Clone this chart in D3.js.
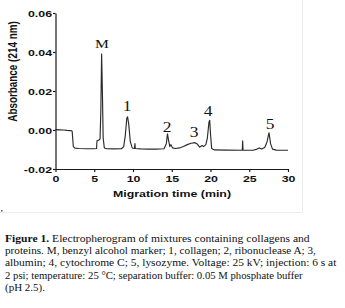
<!DOCTYPE html>
<html>
<head>
<meta charset="utf-8">
<script src="https://cdn.jsdelivr.net/npm/d3@7"></script>
<style>
  body { margin: 0; background: #fff; }
  svg { display: block; }
</style>
</head>
<body>
<svg id="canvas"></svg>
<script>
// migration time (min) and absorbance (AU)
let times = [0, 0.5, 1.0, 1.5, 2.0, 2.15, 2.3, 2.5, 3.0, 4.0, 5.0, 5.3, 5.35, 5.6, 5.75, 5.85, 5.95, 6.05, 6.15, 6.3, 6.6,
    7.5, 8.5, 8.8, 9.0, 9.2, 9.3, 9.45, 9.65, 9.9, 10.2, 10.25, 10.3, 11, 12, 13, 14.0, 14.3, 14.45, 14.6, 14.75, 14.9,
    15.1, 15.5, 16.0, 16.5, 17.0, 17.5, 18.0, 18.3, 18.6, 18.9, 19.1, 19.4, 19.6, 19.8, 19.9, 20.0, 20.15, 20.5, 22,
    24.1, 24.15, 24.2, 25.5, 26.0, 26.3, 26.6, 27.0, 27.3, 27.55, 27.75, 28.0, 28.5, 30]
let absorbance = [0.0002, 0.0001, 0.0000, -0.0002, -0.0003, -0.0006, -0.0085, -0.0093, -0.0095, -0.0096, -0.0096, -0.0095,
    -0.0055, -0.0052, -0.0045, 0.010, 0.039, 0.020, -0.004, -0.0092, -0.0096,
    -0.0097, -0.0096, -0.0085, -0.003, 0.006, 0.0068, 0.003, -0.006, -0.0092, -0.0095, -0.007, -0.0095, -0.0097, -0.0098,
    -0.0098, -0.0096, -0.007, -0.002, -0.0055, -0.0085, -0.0075,
    -0.0092, -0.0095, -0.0092, -0.0085, -0.0075, -0.0068, -0.0065, -0.0072, -0.0088, -0.008, -0.0085, -0.0075, -0.004,
    0.004, 0.005, -0.002, -0.0095, -0.0102, -0.0103,
    -0.0104, -0.0056, -0.0104, -0.0104, -0.0098, -0.0092, -0.0098, -0.009, -0.006, -0.0014, -0.007, -0.0098, -0.0103, -0.0104]

// peak labels, placed at (time, absorbance)
let peakNames = ['M', '1', '2', '3', '4', '5']
let peakTimes = [6.0, 9.23, 14.4, 17.9, 19.7, 27.7]
let peakLabelValues = [0.0418, 0.0097, -0.0008, -0.0036, 0.0072, 0.0005]

let xTicks = [0, 5, 10, 15, 20, 25, 30]
let yTicks = [-0.02, 0.00, 0.02, 0.04, 0.06]
let yTickLabels = ['-0.02', '0.00', '0.02', '0.04', '0.06']

let captionLines = [
    ['Figure 1.', ' Electropherogram of mixtures containing collagens and'],
    ['', 'proteins. M, benzyl alcohol marker; 1, collagen; 2, ribonuclease A; 3,'],
    ['', 'albumin; 4, cytochrome C; 5, lysozyme. Voltage: 25 kV; injection: 6 s at'],
    ['', '2 psi; temperature: 25 \u00b0C; separation buffer: 0.05 M phosphate buffer'],
    ['', '(pH 2.5).']
]
let captionWidths = [305, 311, 332, 298, 40]

let width = 345
let height = 308
let stretch = 1.25

let canvas = d3.select('#canvas')
canvas.attr('width', width).attr('height', height)

let xScale = d3.scaleLinear().domain([0, 30]).range([55.5, 288])
let yScale = d3.scaleLinear().domain([-0.02, 0.06]).range([169, 13])

// faint frame of the figure panel
canvas.append('path')
    .attr('d', 'M302.5,0V212.5H0')
    .attr('fill', 'none')
    .attr('stroke', '#ececec')
    .attr('stroke-width', 1)
canvas.append('rect')
    .attr('x', 1).attr('y', 210).attr('width', 1.5).attr('height', 1.5)
    .attr('fill', '#555')

let drawAxes = () => {
    let xAxis = d3.axisBottom(xScale)
        .tickValues(xTicks)
        .tickSize(3)
        .tickSizeOuter(0)
        .tickPadding(3)
        .tickFormat(d3.format('d'))
    let yAxis = d3.axisLeft(yScale)
        .tickValues(yTicks)
        .tickSize(2.5)
        .tickSizeOuter(0)
        .tickFormat((d, i) => yTickLabels[i])

    let gx = canvas.append('g')
        .attr('id', 'x-axis')
        .attr('transform', 'translate(0,169)')
        .call(xAxis)
    let gy = canvas.append('g')
        .attr('id', 'y-axis')
        .attr('transform', 'translate(55.5,0)')
        .call(yAxis)

    canvas.selectAll('.domain, .tick line')
        .attr('stroke', '#1a1a1a')
        .attr('stroke-width', 1.2)

    gx.selectAll('.tick text')
        .attr('font-family', '"Liberation Sans", Arial, sans-serif')
        .attr('font-weight', 'bold')
        .attr('font-size', 9.9)
        .attr('fill', '#111')
        .attr('y', 5.8)
        .attr('dy', '0.71em')
        .attr('transform', 'scale(' + stretch + ',1)')
    gy.selectAll('.tick text')
        .attr('font-family', '"Liberation Sans", Arial, sans-serif')
        .attr('font-weight', 'bold')
        .attr('font-size', 9.9)
        .attr('fill', '#111')
        .attr('x', -3.5 / stretch)
        .attr('dy', '0.34em')
        .attr('transform', 'scale(' + stretch + ',1)')

    canvas.append('text')
        .attr('transform', 'translate(172,197) scale(' + stretch + ',1)')
        .attr('text-anchor', 'middle')
        .attr('font-family', '"Liberation Sans", Arial, sans-serif')
        .attr('font-weight', 'bold')
        .attr('font-size', 9.9)
        .attr('fill', '#111')
        .text('Migration time (min)')
    canvas.append('text')
        .attr('transform', 'translate(17.3,71.5) scale(' + stretch + ',1) rotate(-90)')
        .attr('text-anchor', 'middle')
        .attr('font-family', '"Liberation Sans", Arial, sans-serif')
        .attr('font-weight', 'bold')
        .attr('font-size', 9.9)
        .attr('fill', '#111')
        .text('Absorbance (214 nm)')
}

let drawTrace = () => {
    let points = times.map((t, i) => [t, absorbance[i]])
    let line = d3.line()
        .x((d) => xScale(d[0]))
        .y((d) => yScale(d[1]))
    canvas.append('path')
        .datum(points)
        .attr('d', line)
        .attr('fill', 'none')
        .attr('stroke', '#2a2a2a')
        .attr('stroke-width', 1.15)
        .attr('stroke-linejoin', 'round')
}

let drawLabels = () => {
    canvas.selectAll('.peak-label')
        .data(peakNames)
        .enter()
        .append('text')
        .attr('class', 'peak-label')
        .attr('transform', (el, i) => 'translate(' + xScale(peakTimes[i]) + ',' + yScale(peakLabelValues[i]) + ') scale(' + stretch + ',1)')
        .attr('text-anchor', 'middle')
        .attr('font-family', '"Liberation Serif", "Times New Roman", serif')
        .attr('font-size', (el) => el === 'M' ? 12.5 : 14)
        .attr('fill', '#111')
        .text((el) => el)
}

let drawCaption = () => {
    captionLines.forEach((parts, i) => {
        let t = canvas.append('text')
            .attr('font-family', '"Liberation Serif", "Times New Roman", serif')
            .attr('font-size', 10.8)
            .attr('fill', '#111')
        t.append('tspan').attr('font-weight', 'bold').text(parts[0])
        t.append('tspan').text(parts[1])
        let w = t.node().getComputedTextLength()
        let s = captionWidths[i] / w
        t.attr('transform', 'translate(5,' + (241.7 + i * 12.35) + ') scale(' + s + ',1)')
    })
}

drawTrace()
drawAxes()
drawLabels()
drawCaption()
</script>
</body>
</html>
